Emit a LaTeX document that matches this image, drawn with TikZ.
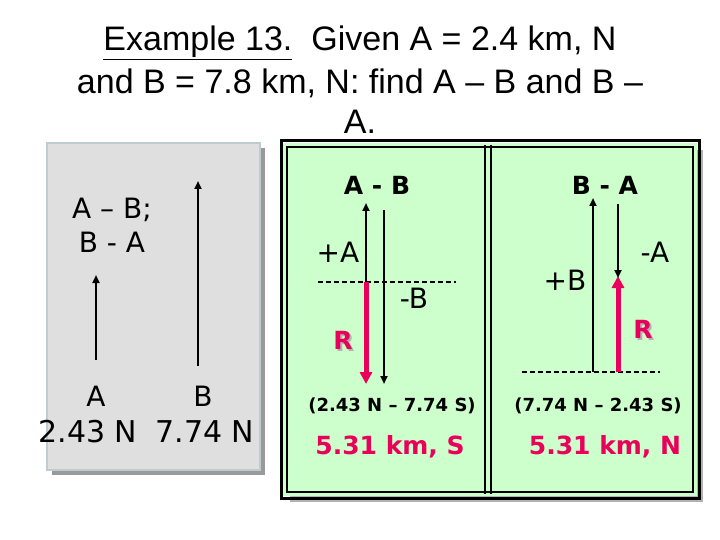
\documentclass[tikz,border=0pt]{standalone}
\usepackage{fontspec}
\setmainfont{Liberation Sans}
\newfontfamily\dv{DejaVu Sans}
\usetikzlibrary{arrows.meta}
\definecolor{rd}{HTML}{E8005A}
\definecolor{gr}{HTML}{CCFFCC}
\newcommand{\shR}{\makebox[0pt][l]{\hspace{2pt}\raisebox{-2pt}{\textcolor{gray!60}{R}}}R}
\begin{document}
\begin{tikzpicture}[x=1pt,y=-1pt,
  vec/.style={line width=2.2pt,-{Triangle[length=8pt,width=7pt]}},
  rvec/.style={line width=5pt,rd,-{Triangle[length=12pt,width=12pt]}},
  dline/.style={line width=1.5pt,dash pattern=on 5pt off 3pt},
  ttl/.style={font=\fontsize{34}{38}\selectfont,inner sep=0},
  lbl/.style={font=\dv\fontsize{28}{32}\selectfont,inner sep=0},
  val/.style={font=\dv\fontsize{30}{34}\selectfont,inner sep=0},
  hd/.style={font=\dv\bfseries\fontsize{25}{28}\selectfont,inner sep=0},
  eq/.style={font=\dv\bfseries\fontsize{18}{20}\selectfont,inner sep=0},
  res/.style={font=\dv\bfseries\fontsize{25}{28}\selectfont,inner sep=0,text=rd},
  rl/.style={font=\dv\bfseries\fontsize{25}{28}\selectfont,inner sep=0,text=rd}]
\useasboundingbox (0,0) rectangle (720,540);
\fill[white] (0,0) rectangle (720,540);
% title
\node[ttl] (t1) at (360,43) {\underline{Example 13.}\ \ Given A = 2.4 km, N};
\node[ttl] (t2) at (360,83) {and B = 7.8 km, N: find A – B and B –};
\node[ttl] (t3) at (360,122) {A.};
% left box
\fill[gray!80] (52,148) rectangle (265,475);
\fill[gray!25,draw=cyan!20!gray!50,line width=1.5pt] (47,143) rectangle (260,470);
\node[lbl] (l1) at (112,210) {A – B;};
\node[lbl] (l2) at (112,242) {B - A};
\coordinate (a0) at (96,360); \coordinate (a1) at (96,275);
\coordinate (b0) at (198,366); \coordinate (b1) at (198,181);
\draw[vec] (a0) -- (a1);
\draw[vec] (b0) -- (b1);
\node[lbl] (la) at (96,396) {A};
\node[lbl] (lb) at (203,396) {B};
\node[val] (va) at (88,432) {2.43 N};
\node[val] (vb) at (205,432) {7.74 N};
% right frame
\fill[gray!60] (290,150) rectangle (703,502);
\fill[gr] (283,143) rectangle (697,496);
\draw[line width=3pt] (281,141) rectangle (699,498);
\draw[line width=1.5pt] (287,147) rectangle (693,492);
\draw[line width=2pt] (485,145) -- (485,494);
\draw[line width=2pt] (491,145) -- (491,494);
% A - B panel
\node[hd] (h1) at (377,185) {A - B};
\coordinate (p0) at (366,282); \coordinate (p1) at (366,203);
\coordinate (q0) at (384,210); \coordinate (q1) at (384,384);
\coordinate (r1) at (366,384);
\coordinate (d0) at (318,282); \coordinate (d1) at (456,282);
\draw[dline] (d0) -- (d1);
\draw[rvec] (p0) -- (r1);
\draw[vec] (p0) -- (p1);
\draw[vec] (q0) -- (q1);
\node[lbl] (pa) at (338,252) {+A};
\node[lbl] (mb) at (414,298) {-B};
\node[rl] (r1l) at (343,341) {\shR};
\node[eq] (e1) at (392,406) {(2.43 N – 7.74 S)};
\node[res] (s1) at (390,447) {5.31 km, S};
% B - A panel
\node[hd] (h2) at (605,185) {B - A};
\coordinate (u0) at (593,372); \coordinate (u1) at (593,198);
\coordinate (w0) at (618,204); \coordinate (w1) at (618,278);
\coordinate (g0) at (618,372); \coordinate (g1) at (618,276);
\coordinate (e0) at (522,372); \coordinate (e2) at (660,372);
\draw[dline] (e0) -- (e2);
\draw[rvec] (g0) -- (g1);
\draw[vec] (u0) -- (u1);
\draw[vec] (w0) -- (w1);
\node[lbl] (pb) at (565,280) {+B};
\node[lbl] (ma) at (655,252) {-A};
\node[rl] (r2l) at (643,330) {\shR};
\node[eq] (e3) at (598,406) {(7.74 N – 2.43 S)};
\node[res] (s2) at (605,447) {5.31 km, N};
\end{tikzpicture}
\end{document}
